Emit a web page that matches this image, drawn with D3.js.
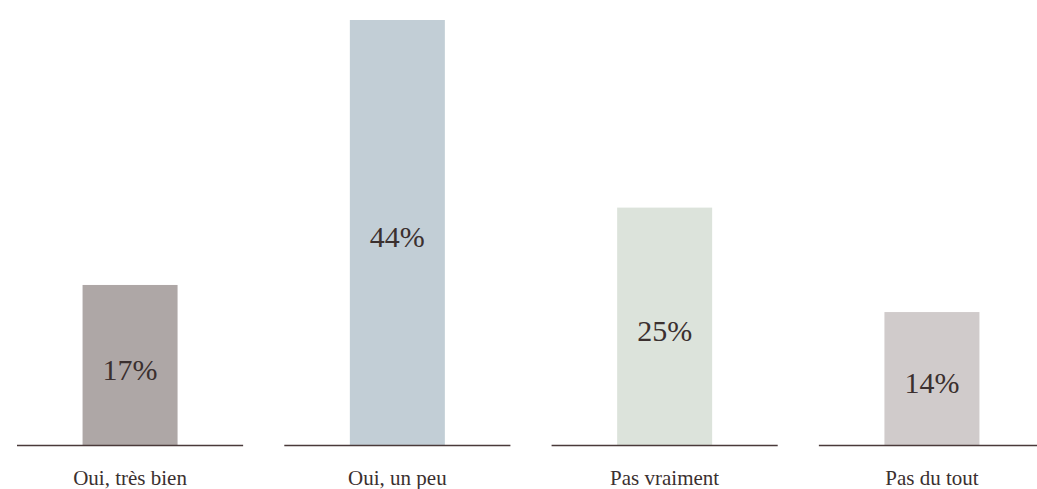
<!DOCTYPE html>
<html>
<head>
<meta charset="utf-8">
<script src="https://cdn.jsdelivr.net/npm/d3@7"></script>
<style>
  body { margin: 0; background: #fff; }
  svg { display: block; }
  text { font-family: "Liberation Serif", "DejaVu Serif", serif; fill: #3b302f; }
</style>
</head>
<body>
<svg id="chart" width="1037" height="489"></svg>
<script>
// data
var categories = ["Oui, très bien", "Oui, un peu", "Pas vraiment", "Pas du tout"];
var values = [16.6, 44, 24.6, 13.8];
var valueLabels = ["17%", "44%", "25%", "14%"];
var colors = ["#aea7a6", "#c2ced6", "#dce3db", "#d0cbcb"];

var svg = d3.select("#chart");
var baseY = 445.5;

var x = d3.scaleBand()
  .domain(categories)
  .range([17, 1045])
  .paddingInner(0.154)
  .paddingOuter(0);

var y = d3.scaleLinear()
  .domain([0, 44])
  .range([baseY, 20]);

var barW = 95;

var data = categories.map(function(c, i){
  return {cat: c, v: values[i], lab: valueLabels[i], col: colors[i]};
});

var g = svg.selectAll("g.cat")
  .data(data)
  .enter()
  .append("g")
    .attr("class", "cat");

// bars
g.append("rect")
  .attr("x", function(d){ return x(d.cat) + x.bandwidth()/2 - barW/2 })
  .attr("y", function(d){ return y(d.v) })
  .attr("width", barW)
  .attr("height", function(d){ return baseY - y(d.v) })
  .style("fill", function(d){ return d.col });

// baseline segment under each category
g.append("line")
  .attr("x1", function(d){ return x(d.cat) })
  .attr("x2", function(d){ return x(d.cat) + x.bandwidth() })
  .attr("y1", baseY)
  .attr("y2", baseY)
  .attr("stroke", "#4a3a3a")
  .attr("stroke-width", 1.3);

// value labels inside the bars
g.append("text")
  .attr("x", function(d){ return x(d.cat) + x.bandwidth()/2 })
  .attr("y", function(d){ return (y(d.v) + baseY)/2 + 14.5 })
  .attr("text-anchor", "middle")
  .style("font-size", "30px")
  .text(function(d){ return d.lab });

// category labels
g.append("text")
  .attr("x", function(d){ return x(d.cat) + x.bandwidth()/2 })
  .attr("y", 485)
  .attr("text-anchor", "middle")
  .style("font-size", "21px")
  .text(function(d){ return d.cat });
</script>
</body>
</html>
